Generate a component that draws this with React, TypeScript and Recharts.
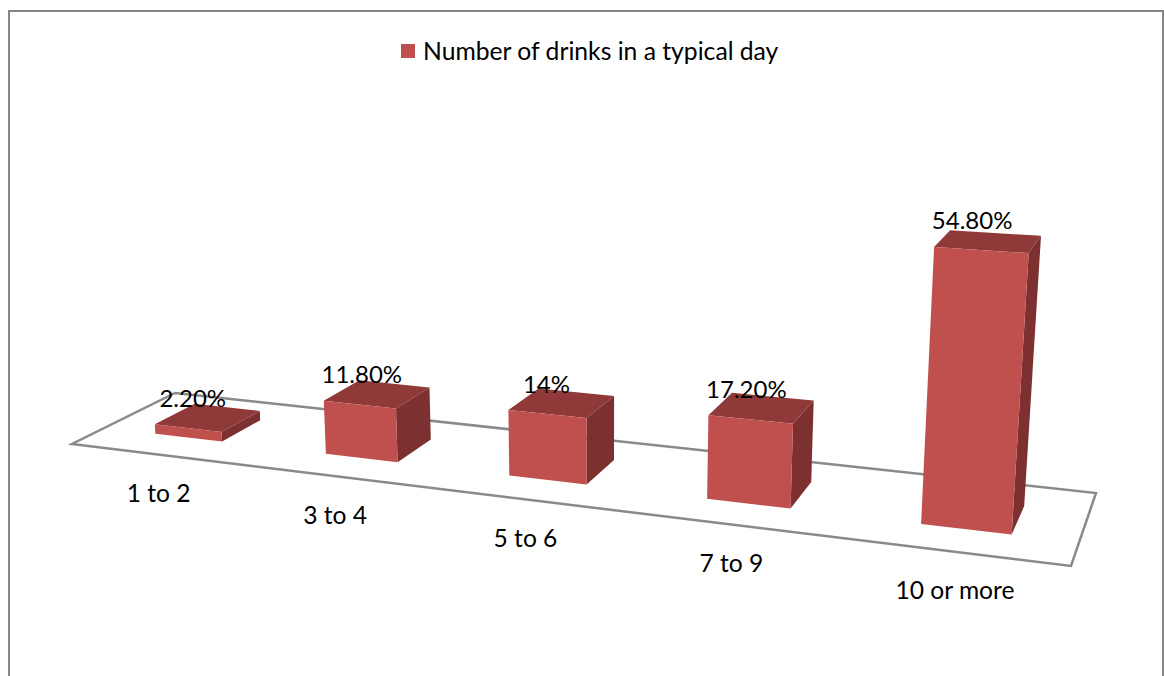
import React from "react";
import { BarChart, Bar, XAxis, YAxis, LabelList, Customized } from "recharts";

const categories = ["1 to 2", "3 to 4", "5 to 6", "7 to 9", "10 or more"];
const drinkShares = [2.2, 11.8, 14, 17.2, 54.8];
const seriesName = "Number of drinks in a typical day";

const chartData = categories.map((name, i) => ({ name, share: drinkShares[i] }));

const CHART_WIDTH = 1164;
const CHART_HEIGHT = 676;
const PLOT_LEFT = 82;
const PLOT_WIDTH = 1000;
const PLOT_TOP = 100;
const PLOT_HEIGHT = 300;
const AXIS_HEIGHT = 30;

const FONT = "Lato, 'Open Sans', sans-serif";
const FRONT_COLOR = "#C0504D";
const TOP_COLOR = "#8F3A39";
const SIDE_COLOR = "#7C3130";
const FLOOR_COLOR = "#8A8A8A";

// Perspective of the floor plane: u runs left to right, v runs front to back
const G = -0.1787;
const H = 0.08954;
const project = (u: number, v: number) => {
  const w = 1 + G * u + H * v;
  return {
    x: (807.6 * u + 118.67 * v + 72) / w,
    y: (20.86 * u - 15.81 * v + 444) / w,
    w,
  };
};

// Verticals converge on a point far below the chart
const VANISH_X = 597;
const VANISH_Y = 7400;
const HEIGHT_SCALE = 0.882;

const raise = (u: number, v: number, plotHeight: number) => {
  const p = project(u, v);
  const rise = (plotHeight * HEIGHT_SCALE) / p.w;
  const t = rise / (VANISH_Y - p.y);
  return { x: p.x + (p.x - VANISH_X) * t, y: p.y - rise };
};

const toU = (px: number) => (px - PLOT_LEFT) / PLOT_WIDTH;
const points = (list: { x: number; y: number }[]) =>
  list.map((p) => `${p.x.toFixed(1)},${p.y.toFixed(1)}`).join(" ");

const BAR_FRONT = 0.3;
const BAR_BACK = 0.7;
// Columns sit a touch right of the band centres
const BAR_SHIFT = 0.0022;

function Bar3D(props: any) {
  const { x, width, height } = props;
  const u0 = toU(x) + BAR_SHIFT;
  const u1 = toU(x + width) + BAR_SHIFT;
  const fl = project(u0, BAR_FRONT);
  const fr = project(u1, BAR_FRONT);
  const br = project(u1, BAR_BACK);
  const tfl = raise(u0, BAR_FRONT, height);
  const tfr = raise(u1, BAR_FRONT, height);
  const tbr = raise(u1, BAR_BACK, height);
  const tbl = raise(u0, BAR_BACK, height);
  return (
    <g>
      <polygon points={points([tfl, tfr, tbr, tbl])} fill={TOP_COLOR} />
      <polygon points={points([fr, br, tbr, tfr])} fill={SIDE_COLOR} />
      <polygon points={points([fl, fr, tfr, tfl])} fill={FRONT_COLOR} />
    </g>
  );
}

function FloorPlane() {
  const corners = [project(0, 0), project(1, 0), project(1, 1), project(0, 1)];
  return (
    <polygon points={points(corners)} fill="#fff" stroke={FLOOR_COLOR} strokeWidth={2.5} />
  );
}

function CategoryTick(props: any) {
  const { x, payload } = props;
  const p = project(toU(x), 0);
  return (
    <text
      x={p.x + 3}
      y={p.y + 38.5}
      textAnchor="middle"
      dominantBaseline="central"
      fontFamily={FONT}
      fontSize={24.6}
      fill="#000"
    >
      {payload.value}
    </text>
  );
}

const formatShare = (v: number) => (Number.isInteger(v) ? `${v}%` : `${v.toFixed(2)}%`);

function ShareLabel(props: any) {
  const { x, height, value } = props;
  const top = raise(toU(x) + BAR_SHIFT, BAR_FRONT, height);
  return (
    <text
      x={top.x + 38}
      y={top.y - 27}
      textAnchor="middle"
      dominantBaseline="central"
      fontFamily={FONT}
      fontSize={24}
      fill="#000"
    >
      {formatShare(value)}
    </text>
  );
}

export default function App() {
  return (
    <div
      style={{
        position: "absolute",
        left: 0,
        top: 0,
        width: CHART_WIDTH,
        height: CHART_HEIGHT,
        overflow: "hidden",
        background: "#fff",
      }}
    >
      {/* Outer frame runs past the bottom of the page */}
      <div
        style={{
          position: "absolute",
          left: 8,
          top: 10,
          width: 1152,
          height: 720,
          border: "2px solid #868686",
        }}
      />
      <div
        style={{
          position: "absolute",
          left: 401,
          top: 36,
          display: "flex",
          alignItems: "center",
          fontFamily: FONT,
          fontSize: 24.7,
          color: "#000",
          whiteSpace: "nowrap",
        }}
      >
        <span style={{ width: 14, height: 14, background: FRONT_COLOR, marginRight: 8 }} />
        {seriesName}
      </div>
      <BarChart
        width={CHART_WIDTH}
        height={CHART_HEIGHT}
        data={chartData}
        barCategoryGap="30%"
        margin={{
          left: PLOT_LEFT,
          right: CHART_WIDTH - PLOT_LEFT - PLOT_WIDTH,
          top: PLOT_TOP,
          bottom: CHART_HEIGHT - PLOT_TOP - PLOT_HEIGHT - AXIS_HEIGHT,
        }}
        style={{ position: "absolute", left: 0, top: 0 }}
      >
        <Customized component={FloorPlane} />
        <XAxis
          dataKey="name"
          height={AXIS_HEIGHT}
          axisLine={false}
          tickLine={false}
          interval={0}
          tick={CategoryTick}
        />
        <YAxis hide domain={[0, 60]} />
        <Bar dataKey="share" name={seriesName} shape={Bar3D} isAnimationActive={false}>
          <LabelList dataKey="share" content={ShareLabel} />
        </Bar>
      </BarChart>
    </div>
  );
}
